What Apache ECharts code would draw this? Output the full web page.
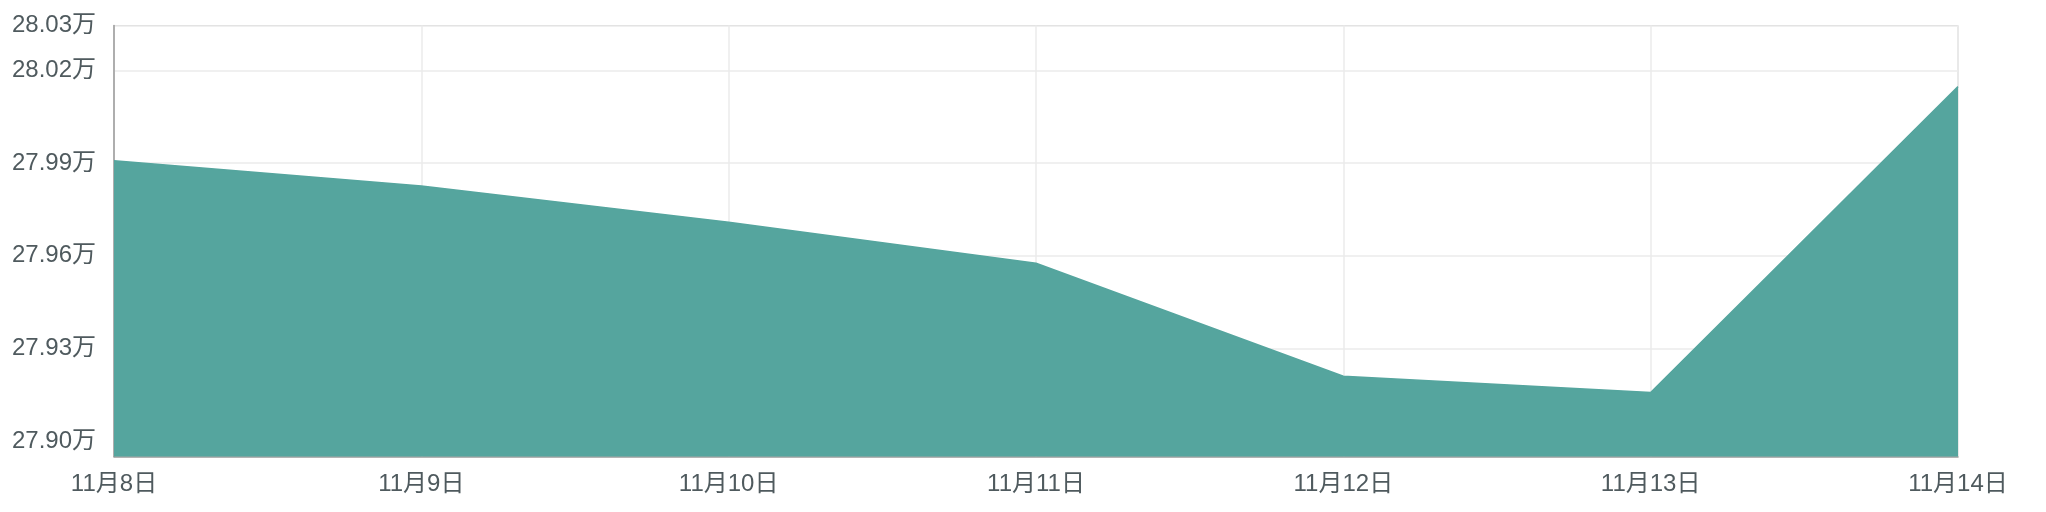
<!DOCTYPE html>
<html>
<head>
<meta charset="utf-8">
<script src="https://cdn.jsdelivr.net/npm/echarts@6/dist/echarts.min.js"></script>
<style>
html,body{margin:0;padding:0;background:#fff;}
#chart{width:2046px;height:512px;}
</style>
</head>
<body>
<div id="chart"></div>
<script>
var categories = ['11月8日', '11月9日', '11月10日', '11月11日', '11月12日', '11月13日', '11月14日'];
var values = [279908, 279826, 279709, 279576, 279210, 279157, 280148];
var yTickValues = [279000, 279300, 279600, 279900, 280200, 280346];
var yTickLabels = ['27.90万', '27.93万', '27.96万', '27.99万', '28.02万', '28.03万'];
var yMin = 278950;
var yMax = 280346;

var font = '"Liberation Sans", "Noto Sans CJK SC", sans-serif';
var chart = echarts.init(document.getElementById('chart'), null, {renderer: 'canvas'});
chart.setOption({
  animation: false,
  grid: {
    left: 114, right: 88, top: 25.5, bottom: 55.5,
    show: true, borderColor: '#cccccc', borderWidth: 1, backgroundColor: 'transparent'
  },
  xAxis: {
    type: 'category',
    data: categories,
    boundaryGap: false,
    axisLine: {show: true, lineStyle: {color: '#9a9a9a', width: 1.5}},
    axisTick: {show: false},
    axisLabel: {color: '#4f5a5e', fontSize: 24, fontFamily: font, margin: 16},
    splitLine: {show: true, lineStyle: {color: '#ebebeb', width: 1.5}}
  },
  yAxis: {
    type: 'value',
    min: yMin,
    max: yMax,
    axisLine: {show: true, lineStyle: {color: '#9a9a9a', width: 1.5}},
    axisTick: {show: false, customValues: yTickValues},
    axisLabel: {
      color: '#4f5a5e', fontSize: 24, fontFamily: font, margin: 18,
      customValues: yTickValues,
      formatter: function (v) {
        var i = yTickValues.indexOf(v);
        return i >= 0 ? yTickLabels[i] : '';
      }
    },
    splitLine: {show: true, lineStyle: {color: '#ebebeb', width: 1.5}}
  },
  series: [{
    type: 'line',
    data: values,
    showSymbol: false,
    lineStyle: {color: '#55a59e', width: 1.5},
    itemStyle: {color: '#55a59e'},
    areaStyle: {color: '#55a59e', opacity: 1, origin: 'start'}
  }]
});
</script>
</body>
</html>
